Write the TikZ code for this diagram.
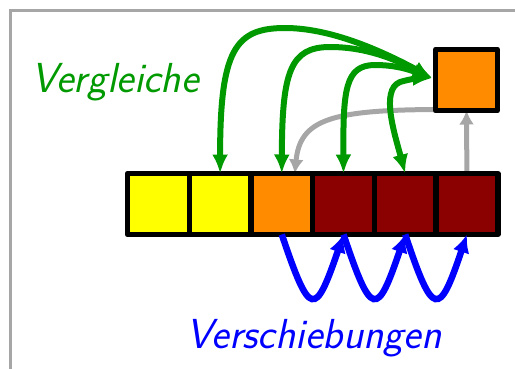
\documentclass[tikz,border=0pt]{standalone}
\usetikzlibrary{arrows.meta,backgrounds}
\definecolor{cmpgreen}{RGB}{0,153,0}
\definecolor{shiftblue}{RGB}{0,0,255}
\definecolor{movegray}{RGB}{166,166,166}
\definecolor{framegray}{RGB}{166,166,166}
\definecolor{cellyellow}{RGB}{255,255,0}
\definecolor{cellorange}{RGB}{255,140,0}
\definecolor{celldark}{RGB}{139,0,0}
\begin{document}
\begin{tikzpicture}[x=1pt,y=-1pt,
  cell/.style={draw=black,line width=5.5pt,line join=round,minimum width=61.7pt,minimum height=61pt,inner sep=0pt,outer sep=0pt},
  cmp/.style={draw=cmpgreen,line width=6pt,{Latex[length=19pt,width=16pt]}-{Latex[length=19pt,width=16pt]}},
  shiftarrow/.style={draw=shiftblue,line width=6.5pt,-{Latex[length=18pt,width=17pt]}},
  movearrow/.style={draw=movegray,line width=5pt,-{Latex[length=14pt,width=15pt]}},
  label/.style={inner sep=0pt,font=\fontsize{42}{44}\selectfont\sffamily\itshape}
]
\useasboundingbox (0,0) rectangle (515,368);
\draw[framegray,line width=3pt] (517,10.5) -- (10.5,10.5) -- (10.5,370);

\node[cell,fill=cellyellow] (c1) at (158.4,204) {};
\node[cell,fill=cellyellow] (c2) at (220.1,204) {};
\node[cell,fill=cellorange] (c3) at (281.8,204) {};
\node[cell,fill=celldark]   (c4) at (343.5,204) {};
\node[cell,fill=celldark]   (c5) at (405.2,204) {};
\node[cell,fill=celldark]   (c6) at (466.9,204) {};
\node[cell,fill=cellorange] (box) at (466.5,80) {};

\coordinate (tip) at ([xshift=-3.5pt,yshift=2pt]box.west);
\coordinate (boxout) at ([yshift=1pt]box.south west);

\begin{pgfonlayer}{background}
\draw[movearrow] (c6.north) -- (box.south);
\draw[movearrow] (boxout) .. controls (330,110) and (300,120) .. ([xshift=13pt]c3.north);
\end{pgfonlayer}

\draw[cmp] (c2.north) .. controls (220,50) and (235,28) .. (285,28) .. controls (330,28) and (380,50) .. (tip);
\draw[cmp] (c3.north) .. controls (282,72) and (290,47) .. (330,47) .. controls (370,47) and (400,62) .. (tip);
\draw[cmp] (c4.north) .. controls (343,90) and (345,65) .. (375,65) .. controls (400,65) and (415,72) .. (tip);
\draw[cmp] (c5.north) .. controls (395,135) and (380,90) .. (400,82) .. controls (410,79) and (420,78) .. (tip);

\draw[shiftarrow] (c3.south) .. controls (310,318) and (315,318) .. (c4.south);
\draw[shiftarrow] (c4.south) .. controls (371.5,318) and (377,318) .. (c5.south);
\draw[shiftarrow] (c5.south) .. controls (433,318) and (439,318) .. (c6.south);

\node[label,text=cmpgreen,anchor=base] (vgl) at (115,92) {Vergleiche};
\node[label,text=shiftblue,anchor=base] (vsch) at (314,348) {Verschiebungen};
\end{tikzpicture}
\end{document}
